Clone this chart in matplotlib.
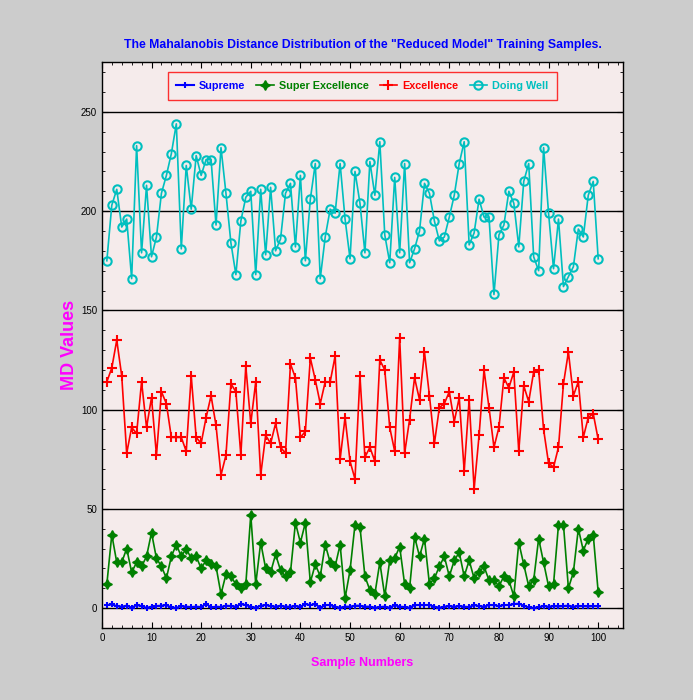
import matplotlib
matplotlib.use("Agg")
import matplotlib.pyplot as plt
import numpy as np

samples = list(range(1, 101))

doing_well = [175, 203, 211, 192, 196, 166, 233, 179, 213, 177,
              187, 209, 218, 229, 244, 181, 223, 201, 228, 218,
              226, 226, 193, 232, 209, 184, 168, 195, 207, 210,
              168, 211, 178, 212, 180, 186, 209, 214, 182, 218,
              175, 206, 224, 166, 187, 201, 199, 224, 196, 176,
              220, 204, 179, 225, 208, 235, 188, 174, 217, 179,
              224, 174, 181, 190, 214, 209, 195, 185, 187, 197,
              208, 224, 235, 183, 189, 206, 197, 197, 158, 188,
              193, 210, 204, 182, 215, 224, 177, 170, 232, 199,
              171, 196, 162, 167, 172, 191, 187, 208, 215, 176]

excellence = [114, 121, 135, 117, 78, 91, 88, 114, 91, 106,
              77, 109, 103, 86, 86, 86, 79, 117, 86, 83,
              96, 107, 92, 67, 77, 113, 109, 77, 122, 93,
              114, 67, 87, 83, 93, 81, 78, 123, 116, 86,
              89, 126, 115, 103, 114, 114, 127, 75, 96, 74,
              65, 117, 76, 81, 74, 125, 120, 91, 79, 136,
              78, 95, 116, 105, 129, 107, 83, 101, 103, 109,
              94, 106, 69, 105, 60, 87, 120, 101, 81, 91,
              116, 111, 119, 79, 112, 104, 119, 120, 90, 73,
              71, 81, 113, 129, 107, 114, 86, 96, 98, 85]

super_excellence = [12, 37, 23, 23, 30, 18, 23, 21, 26, 38,
                    25, 21, 15, 26, 32, 26, 30, 25, 26, 20,
                    24, 22, 21, 7, 17, 16, 12, 10, 12, 47,
                    12, 33, 20, 18, 27, 19, 16, 18, 43, 33,
                    43, 13, 22, 16, 32, 23, 21, 32, 5, 19,
                    42, 41, 16, 9, 7, 23, 6, 24, 25, 31,
                    12, 10, 36, 26, 35, 12, 15, 21, 26, 16,
                    24, 28, 16, 24, 15, 18, 21, 14, 14, 11,
                    16, 14, 6, 33, 22, 11, 14, 35, 23, 11,
                    12, 42, 42, 10, 18, 40, 29, 35, 37, 8]

supreme = [1.5, 1.8, 1.0, 0.7, 1.2, 0.2, 1.5, 1.0, 0.1, 0.7,
           1.0, 1.2, 1.5, 0.3, 0.1, 1.0, 0.7, 0.5, 0.7, 0.5,
           2.2, 0.3, 0.7, 0.5, 1.2, 1.0, 0.7, 2.0, 1.5, 0.7,
           0.2, 1.2, 1.5, 1.0, 0.7, 1.2, 0.7, 0.7, 1.0, 0.7,
           2.0, 1.5, 2.0, 0.2, 1.5, 1.5, 0.7, 0.2, 0.7, 0.7,
           1.2, 1.2, 0.7, 0.7, 0.2, 0.5, 0.7, 0.2, 1.5, 0.7,
           0.5, 0.2, 1.5, 1.5, 1.5, 1.5, 0.7, 0.2, 0.7, 1.0,
           0.7, 1.0, 0.7, 0.5, 1.5, 1.0, 0.7, 1.5, 1.5, 1.0,
           1.5, 1.5, 2.0, 2.2, 1.2, 0.3, 0.1, 0.5, 1.0, 0.7,
           1.0, 0.8, 1.0, 1.2, 0.7, 1.0, 1.0, 0.8, 1.0, 1.0]

series_names = ["Supreme", "Super Excellence", "Excellence", "Doing Well"]
colors = ["#0000ff", "#008000", "#ff0000", "#00bfbf"]

plt.rcParams['font.family'] = ['Liberation Sans', 'DejaVu Sans']

fig = plt.figure(figsize=(6.93, 7.0), dpi=100, facecolor="#cccccc")
ax = fig.add_axes([0.147, 0.103, 0.752, 0.808])
ax.set_facecolor("#f5ebeb")

ax.plot(samples, supreme, color=colors[0], marker='+', ms=4, mew=1.5, lw=1.5, label=series_names[0])
ax.plot(samples, super_excellence, color=colors[1], marker=(4, 1, 0), ms=7, mew=1.0, lw=1.2, label=series_names[1])
ax.plot(samples, excellence, color=colors[2], marker='+', ms=7, mew=1.5, lw=1.2, label=series_names[2])
ax.plot(samples, doing_well, color=colors[3], marker='o', ms=6, mfc='none', mew=1.5, lw=1.2, label=series_names[3])

ax.set_xlim(0, 105)
ax.set_ylim(-10, 275)
ax.set_xticks(range(0, 101, 10))
ax.set_yticks(range(0, 251, 50))
for v in range(0, 251, 50):
    ax.axhline(v, color='black', lw=1.0, zorder=0.5)
ax.tick_params(direction='in', labelsize=7, top=True, right=True, length=4)
ax.minorticks_on()
ax.tick_params(which='minor', direction='in', top=True, right=True, length=2)
for s in ax.spines.values():
    s.set_linewidth(1.0)

ax.set_title('The Mahalanobis Distance Distribution of the "Reduced Model" Training Samples.',
             color='#0000ff', fontweight='bold', fontsize=8.8, pad=10)
ax.set_xlabel('Sample Numbers', color='#ff00ff', fontweight='bold', fontsize=9, labelpad=10)
ax.set_ylabel('MD Values', color='#ff00ff', fontweight='bold', fontsize=13, labelpad=2)

leg = ax.legend(loc='upper center', ncol=4, fontsize=7.8, frameon=True, fancybox=False,
                handlelength=1.6, columnspacing=1.0, handletextpad=0.5, borderpad=0.8,
                borderaxespad=0, bbox_to_anchor=(0.5, 0.982))
leg.get_frame().set_edgecolor('#ff0000')
leg.get_frame().set_facecolor('#f5ebeb')
leg.get_frame().set_linewidth(1.0)
for t, c in zip(leg.get_texts(), colors):
    t.set_color(c)
    t.set_fontweight('bold')

fig.savefig("out.png", dpi=100, facecolor=fig.get_facecolor())
